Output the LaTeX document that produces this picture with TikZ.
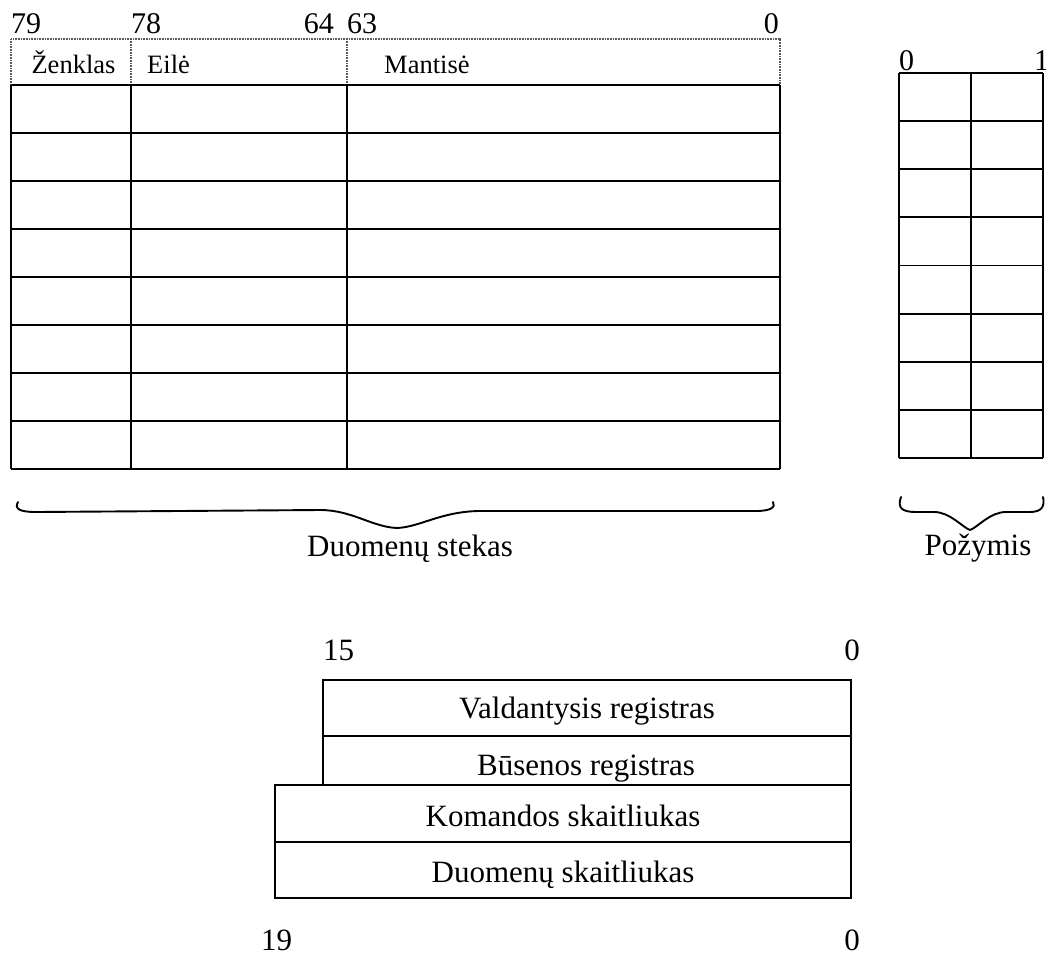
\documentclass[tikz,border=0pt]{standalone}
\usepackage{fontspec}
\setmainfont{Liberation Serif}
\begin{document}
\begin{tikzpicture}[x=1pt,y=-1pt,
  solidline/.style={line width=1.8pt,black},
  dotline/.style={line width=1.2pt,black!65,dash pattern=on 1pt off 0.6pt},
  bracestyle/.style={line width=1.9pt,line cap=round,line join=round},
  numlbl/.style={inner sep=0pt,font=\fontsize{30}{34}\selectfont},
  hdrlbl/.style={inner sep=0pt,font=\fontsize{26.5}{30}\selectfont},
  biglbl/.style={inner sep=0pt,font=\fontsize{31}{36}\selectfont}]
\useasboundingbox (0,0) rectangle (1046,956);

% ---------- data stack ----------
\draw[dotline] (11,85) -- (11,39) -- (780,39) -- (780,85);
\draw[dotline] (131,39) -- (131,85);
\draw[dotline] (347,39) -- (347,85);
\draw[solidline] (11,85) -- (780,85);
\foreach \k in {1,...,8} {
  \draw[solidline] (11,85+48*\k) -- (780,85+48*\k);
}
\foreach \xx in {11,131,347,780} {
  \draw[solidline] (\xx,85) -- (\xx,469);
}
\node[numlbl,anchor=base west] (b79) at (11,33) {79};
\node[numlbl,anchor=base west] (b78) at (131,33) {78};
\node[numlbl,anchor=base east] (b64) at (334,33) {64};
\node[numlbl,anchor=base west] (b63) at (347,33) {63};
\node[numlbl,anchor=base east] (b0a) at (779,33) {0};
\node[hdrlbl,anchor=base] (zenklas) at (73.5,73) {Ženklas};
\node[hdrlbl,anchor=base west] (eile) at (147,73) {Eilė};
\node[hdrlbl,anchor=base west] (mantise) at (384,73) {Mantisė};

% ---------- flags ----------
\foreach \k in {0,...,8} {
  \draw[solidline] (899,73+48.125*\k) -- (1043,73+48.125*\k);
}
\foreach \xx in {899,971,1043} {
  \draw[solidline] (\xx,73) -- (\xx,458);
}
\node[numlbl,anchor=base west] (f0) at (899,70) {0};
\node[numlbl,anchor=base west] (f1) at (1034,70) {1};

% ---------- braces ----------
\coordinate (bsA) at (18,502);
\coordinate (bsTip) at (397,528);
\coordinate (bsB) at (773,502);
\draw[bracestyle] (bsA) .. controls (14,509) and (20,512) .. (36,512)
  -- (320,510) .. controls (352,510) and (372,527) .. (bsTip)
  .. controls (420,527) and (440,512) .. (478,511)
  -- (756,511) .. controls (771,511) and (776,507) .. (bsB);
\coordinate (bpA) at (901,497);
\coordinate (bpTip) at (970,530);
\coordinate (bpB) at (1043,497);
\draw[bracestyle] (bpA) .. controls (897,508) and (902,512) .. (916,512)
  -- (934,512) .. controls (950,512) and (962,527) .. (bpTip)
  .. controls (978,527) and (990,512) .. (1006,512)
  -- (1030,512) .. controls (1042,512) and (1045,506) .. (bpB);
\node[biglbl,anchor=base] (stekas) at (410,556) {Duomenų stekas};
\node[biglbl,anchor=base] (pozymis) at (978,555) {Požymis};

% ---------- registers ----------
\draw[solidline] (323,785) -- (323,680) -- (851,680) -- (851,898) -- (275,898) -- (275,785) -- (851,785);
\draw[solidline] (323,736) -- (851,736);
\draw[solidline] (275,842) -- (851,842);
\node[biglbl,anchor=base] (valdantysis) at (587,718) {Valdantysis registras};
\node[biglbl,anchor=base] (busenos) at (586,775) {Būsenos registras};
\node[biglbl,anchor=base] (komandos) at (563,826) {Komandos skaitliukas};
\node[biglbl,anchor=base] (duomenu) at (563,882) {Duomenų skaitliukas};
\node[biglbl,anchor=base west] (r15) at (323,660) {15};
\node[biglbl,anchor=base east] (r0a) at (860,660) {0};
\node[biglbl,anchor=base west] (r19) at (261,950) {19};
\node[biglbl,anchor=base east] (r0b) at (860,950) {0};
\end{tikzpicture}
\end{document}
